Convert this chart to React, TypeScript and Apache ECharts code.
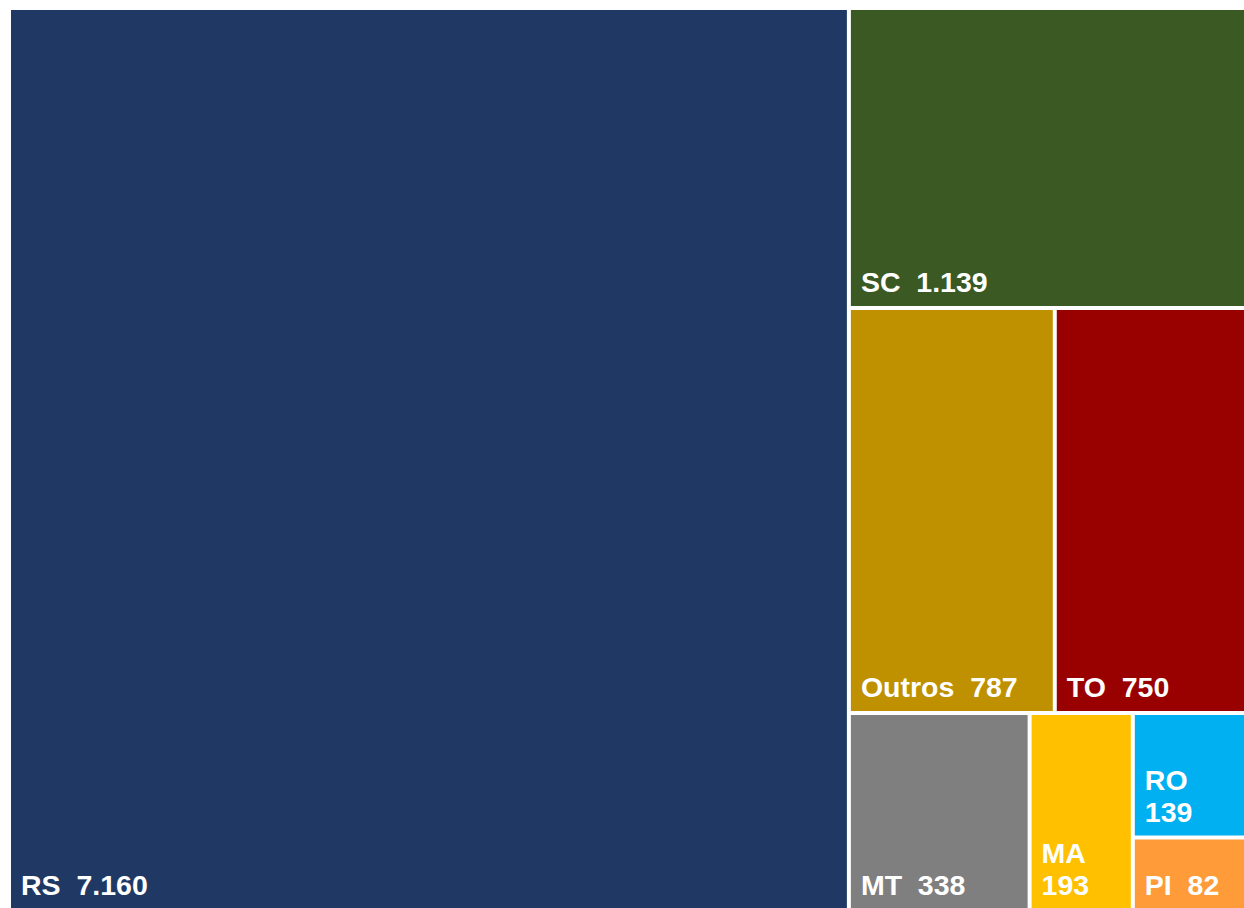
import React, { useEffect, useRef } from "react";
import * as echarts from "echarts";

const names = ["RS", "SC", "Outros", "TO", "MT", "MA", "RO", "PI"];
const values = [7160, 1139, 787, 750, 338, 193, 139, 82];
const colors = ["#203864", "#3A5923", "#BF9000", "#990000", "#7F7F7F", "#FFC000", "#00B0F0", "#FF9B38"];
const stackedLabels = ["MA", "RO"];

const fmt = (v: number) => String(v).replace(/\B(?=(\d{3})+(?!\d))/g, ".");

export default function App() {
  const ref = useRef<HTMLDivElement>(null);
  useEffect(() => {
    const chart = echarts.init(ref.current!, null, { renderer: "svg" });
    chart.setOption({
      animation: false,
      backgroundColor: "#ffffff",
      series: [
        {
          type: "treemap",
          left: 11,
          top: 10,
          width: 1238,
          height: 899,
          squareRatio: 1.044,
          sort: "desc",
          roam: false,
          nodeClick: false,
          breadcrumb: { show: false },
          itemStyle: { borderWidth: 0, gapWidth: 4, borderColor: "#ffffff" },
          emphasis: { disabled: true },
          label: {
            show: true,
            position: "insideBottomLeft",
            distance: 0,
            padding: [0, 0, 8, 10],
            color: "#ffffff",
            fontSize: 28.5,
            fontWeight: "bold",
            lineHeight: 32,
            fontFamily: "'Liberation Sans', Arial, sans-serif",
            overflow: "none",
            formatter: (p: any) =>
              stackedLabels.includes(p.name)
                ? `${p.name}\n${fmt(p.value)}`
                : `${p.name}\u00a0\u00a0${fmt(p.value)}`,
          },
          data: names.map((n, i) => ({
            name: n,
            value: values[i],
            itemStyle: { color: colors[i] },
          })),
        },
      ],
    });
    return () => chart.dispose();
  }, []);
  return (
    <div
      ref={ref}
      style={{ position: "fixed", left: 0, top: 0, width: 1244, height: 908 }}
    />
  );
}
